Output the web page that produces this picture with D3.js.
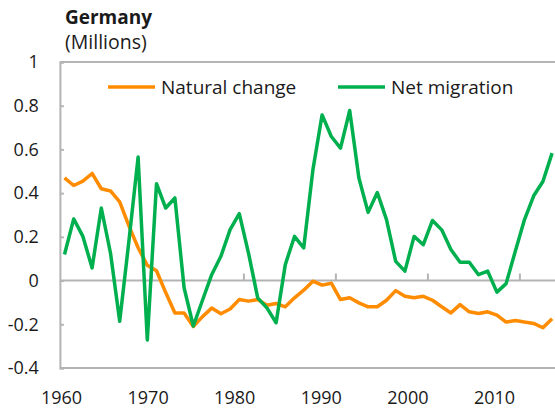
<!DOCTYPE html>
<html>
<head>
<meta charset="utf-8">
<script src="https://cdn.jsdelivr.net/npm/d3@7"></script>
<style>
  body { margin: 0; background: #fff; }
  text { font-family: "Open Sans", sans-serif; fill: #1a1a1a; }
</style>
</head>
<body>
<script>
var w = 555, h = 418;

// data (millions)
var years = d3.range(1960, 2014);
var naturalChange = [
  0.47, 0.435, 0.455, 0.49, 0.42, 0.41, 0.36, 0.25, 0.15, 0.07,
  0.045, -0.055, -0.148, -0.148, -0.21, -0.165, -0.126, -0.152, -0.13, -0.087,
  -0.094, -0.087, -0.113, -0.105, -0.12, -0.079, -0.044, -0.003, -0.021, -0.012,
  -0.087, -0.079, -0.102, -0.12, -0.12, -0.09, -0.046, -0.072, -0.079, -0.072,
  -0.09, -0.12, -0.148, -0.11, -0.143, -0.151, -0.143, -0.158, -0.19, -0.183,
  -0.19, -0.196, -0.216, -0.175
];
var netMigration = [
  0.119, 0.282, 0.202, 0.058, 0.332, 0.126, -0.186, 0.18, 0.565, -0.272,
  0.443, 0.332, 0.378, -0.033, -0.208, -0.09, 0.027, 0.111, 0.233, 0.306,
  0.126, -0.079, -0.125, -0.193, 0.073, 0.202, 0.149, 0.507, 0.758, 0.659,
  0.606, 0.778, 0.469, 0.312, 0.403, 0.279, 0.088, 0.043, 0.202, 0.164,
  0.275, 0.232, 0.142, 0.084, 0.084, 0.027, 0.043, -0.053, -0.014, 0.134,
  0.279, 0.388, 0.453, 0.583
];
var seriesNames = ['Natural change', 'Net migration'];
var seriesColors = ['#ff8c00', '#00b04f'];
var yTicks = [-0.4, -0.2, 0, 0.2, 0.4, 0.6, 0.8, 1];
var xLabels = [1960, 1970, 1980, 1990, 2000, 2010];
var xTickYears = [1970, 1980, 1990, 2000, 2010];

var x = d3.scaleLinear().domain([1960, 2013]).range([64.5, 552.1]);
var y = d3.scaleLinear().domain([-0.4, 1]).range([368, 62]);
// the year labels sit on their own spacing in the original
var xl = d3.scaleLinear().domain([1960, 2010]).range([61, 494]);

var svg = d3.select('body').append('svg')
    .attr('width', w)
    .attr('height', h);

var grey = '#b4b4b4';
var left = x(1959.5), right = w;

// frame: top, bottom, zero line
svg.append('g').selectAll('line')
    .data([y(1), y(-0.4), y(0)])
    .enter().append('line')
    .attr('x1', left).attr('x2', right)
    .attr('y1', function(d) { return d; })
    .attr('y2', function(d) { return d; })
    .attr('stroke', grey).attr('stroke-width', 2);

// y axis
var yAxis = svg.append('g')
    .attr('transform', 'translate(' + left + ',0)')
    .call(d3.axisLeft(y).tickValues(yTicks).tickSize(-4).tickPadding(21)
        .tickFormat(function(d) { return String(d); }));
yAxis.select('.domain').attr('stroke', grey).attr('stroke-width', 2);
yAxis.selectAll('.tick line').attr('stroke', grey).attr('stroke-width', 2);
yAxis.selectAll('text').style('font-size', '18px').style('font-family', '"Open Sans", sans-serif').attr('fill', '#1a1a1a');

// x ticks on the zero line, between categories
svg.append('g').selectAll('line')
    .data(xTickYears)
    .enter().append('line')
    .attr('x1', function(d) { return x(d - 0.5); })
    .attr('x2', function(d) { return x(d - 0.5); })
    .attr('y1', y(0)).attr('y2', y(0) - 7)
    .attr('stroke', grey).attr('stroke-width', 2);

// x labels
var xAxis = svg.append('g')
    .attr('transform', 'translate(0,' + 391 + ')')
    .call(d3.axisBottom(xl).tickValues(xLabels).tickSize(0).tickPadding(0)
        .tickFormat(function(d) { return String(d); }));
xAxis.select('.domain').remove();
xAxis.selectAll('text').style('font-size', '18px').style('font-family', '"Open Sans", sans-serif').attr('fill', '#1a1a1a');

// lines
var line = d3.line()
    .x(function(d, i) { return x(years[i]); })
    .y(function(d) { return y(d); });

svg.append('g').selectAll('path')
    .data([naturalChange, netMigration])
    .enter().append('path')
    .attr('d', line)
    .attr('fill', 'none')
    .attr('stroke', function(d, i) { return seriesColors[i]; })
    .attr('stroke-width', 3.5)
    .attr('stroke-linejoin', 'round');

// legend
var legendX = [108, 338];
var lg = svg.append('g').selectAll('g')
    .data(seriesNames)
    .enter().append('g')
    .attr('transform', function(d, i) { return 'translate(' + legendX[i] + ',87)'; });
lg.append('line')
    .attr('x1', 0).attr('x2', 47)
    .attr('stroke', function(d, i) { return seriesColors[i]; })
    .attr('stroke-width', 3.5);
lg.append('text')
    .attr('x', 53).attr('y', 7)
    .style('font-size', '19px')
    .text(function(d) { return d; });

// titles
svg.append('text')
    .attr('x', 65).attr('y', 24)
    .style('font-size', '19px').style('font-weight', 'bold')
    .text('Germany');
svg.append('text')
    .attr('x', 65).attr('y', 49)
    .style('font-size', '19.5px')
    .text('(Millions)');
</script>
</body>
</html>
